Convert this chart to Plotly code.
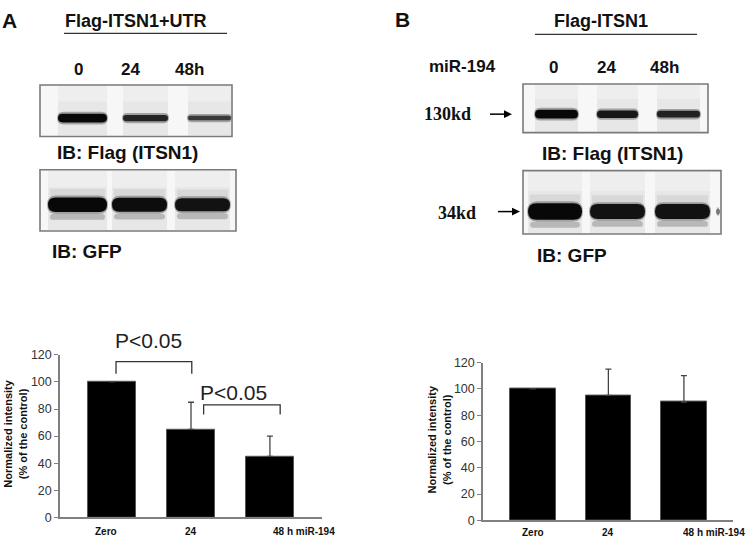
import plotly.graph_objects as go

# ---- bar chart data ----
categories = ["Zero", "24", "48 h miR-194"]
a_mean = [100, 65, 45]
a_err = [0, 20, 15]
b_mean = [100, 95, 90]
b_err = [0, 20, 20]

# ---- blot lane labels / relative band intensities ----
lane_labels = ["0", "24", "48h"]
flag_a = [1.0, 0.72, 0.5]
gfp_a = [1.0, 0.95, 0.9]
flag_b = [1.0, 0.85, 0.75]
gfp_b = [1.0, 0.9, 0.9]

W, H = 750, 542
FONT = "Liberation Sans, Arial, sans-serif"
SERIF = "Liberation Serif, Times New Roman, serif"
TXT = "#111111"
AXC = "#808080"


def pxx(x):
    return x / W


def pxy(y):
    return 1 - y / H


fig = go.Figure()

# ---- bar charts ----
fig.add_trace(go.Bar(
    x=[0, 1, 2], y=a_mean, width=0.61,
    marker=dict(color="black", line=dict(color="#555555", width=1)),
    error_y=dict(type="data", array=a_err, arrayminus=[0, 0, 0], symmetric=False,
                 visible=True, color="#444444", thickness=1.3, width=3),
    showlegend=False, xaxis="x", yaxis="y",
))
fig.add_trace(go.Bar(
    x=[0, 1, 2], y=b_mean, width=0.6,
    marker=dict(color="black", line=dict(color="#555555", width=1)),
    error_y=dict(type="data", array=b_err, arrayminus=[0, 0, 0], symmetric=False,
                 visible=True, color="#444444", thickness=1.3, width=3),
    showlegend=False, xaxis="x2", yaxis="y2",
))

yax = dict(range=[0, 120], dtick=20, showline=True, linecolor=AXC, linewidth=1.5,
           ticks="outside", ticklen=4, tickcolor=AXC, showgrid=False, zeroline=False,
           tickfont=dict(family=FONT, size=12.5, color="#333333"), fixedrange=True)
xax = dict(showline=True, linecolor=AXC, linewidth=1.5, showticklabels=False,
           ticks="", showgrid=False, zeroline=False, fixedrange=True)

fig.update_layout(
    width=W, height=H,
    margin=dict(l=0, r=0, t=0, b=0),
    paper_bgcolor="white", plot_bgcolor="rgba(0,0,0,0)",
    bargap=0,
    xaxis=dict(xax, domain=[pxx(60), pxx(322)], range=[-0.66, 2.66], anchor="y"),
    yaxis=dict(yax, domain=[pxy(524), pxy(357)], anchor="x"),
    xaxis2=dict(xax, domain=[pxx(483), pxx(733)], range=[-0.66, 2.65], anchor="y2"),
    yaxis2=dict(yax, domain=[pxy(527), pxy(365)], anchor="x2"),
    # pixel overlay for the blot drawings
    xaxis3=dict(domain=[0, 1], range=[0, W], visible=False, fixedrange=True, anchor="y3"),
    yaxis3=dict(domain=[0, 1], range=[H, 0], visible=False, fixedrange=True, anchor="x3"),
)

# empty trace so the overlay axes exist
fig.add_trace(go.Scatter(x=[0], y=[0], mode="markers", marker=dict(opacity=0),
                         hoverinfo="skip", showlegend=False, xaxis="x3", yaxis="y3"))

shapes = []
ann = []


def text(x, y, s, size, bold=True, family=FONT, color=TXT, ref=("x3", "y3"), **kw):
    ann.append(dict(x=x, y=y, xref=ref[0], yref=ref[1], text=f"<b>{s}</b>" if bold else s,
                    showarrow=False, font=dict(family=family, size=size, color=color),
                    xanchor=kw.pop("xanchor", "center"), yanchor=kw.pop("yanchor", "middle"), **kw))


def rect(x0, y0, x1, y1, fill, line=None, lw=0, opacity=1):
    shapes.append(dict(type="rect", xref="x3", yref="y3", x0=x0, y0=y0, x1=x1, y1=y1,
                       fillcolor=fill, line=dict(color=line or fill, width=lw), opacity=opacity,
                       layer="above"))


def band(x0, x1, yc, h, fill, opacity=1):
    r = h / 2
    d = (f"M {x0 + r},{yc - r} L {x1 - r},{yc - r} Q {x1},{yc - r} {x1},{yc} "
         f"Q {x1},{yc + r} {x1 - r},{yc + r} L {x0 + r},{yc + r} "
         f"Q {x0},{yc + r} {x0},{yc} Q {x0},{yc - r} {x0 + r},{yc - r} Z")
    shapes.append(dict(type="path", xref="x3", yref="y3", path=d, fillcolor=fill,
                       line=dict(width=0), opacity=opacity, layer="above"))


def blot(box, lanes, yc, base_h, inten, gfp=False):
    x0, y0, x1, y1 = box
    rect(x0, y0, x1, y1, "#f7f7f7")
    for (lx0, lx1) in lanes:
        rect(lx0, y0 + 1, lx1, y1 - 1, "#e7e7e7")
        rect(lx0, y0 + 1, lx1, (y0 + yc) / 2, "#eeeeee")
    for (lx0, lx1), k in zip(lanes, inten):
        h = base_h * k
        if gfp:
            rect(lx0 + 2, yc - h / 2 - 9, lx1 - 2, yc - h / 2, "#d4d4d4", opacity=0.8)
            band(lx0 + 2, lx1 - 2, yc + h / 2 + 5, 6, "#b8b8b8")
        band(lx0 - 1, lx1 + 1, yc, h + 4, "#6a6a6a", opacity=0.55)
        g = int(8 + (1 - k) * 100)
        band(lx0, lx1, yc, h, f"rgb({g},{g},{g})")
    rect(x0, y0, x1, y1, "rgba(0,0,0,0)", line="#7a7a7a", lw=1.6)


# ---- panel A blots ----
blot((40, 80, 232, 133), [(58, 107), (123, 168), (188, 231)], 114, 9, flag_a)
blot((40, 167, 236, 230), [(48, 107), (112, 167), (175, 230)], 203, 15, gfp_a, gfp=True)

# ---- panel B blots ----
blot((523, 79, 708, 129), [(535, 578), (597, 638), (657, 700)], 110, 9, flag_b)
blot((523, 168, 721, 233), [(528, 582), (590, 645), (655, 710)], 210, 17, gfp_b, gfp=True)
band(716, 720, 210, 8, "#777777")

# header lines
shapes.append(dict(type="line", xref="x3", yref="y3", x0=64, x1=227, y0=27, y1=27,
                   line=dict(color="#333333", width=1.3)))
shapes.append(dict(type="line", xref="x3", yref="y3", x0=535, x1=697, y0=28, y1=28,
                   line=dict(color="#333333", width=1.3)))

# arrows (kd markers)
for (ax0, ax1, ay) in [(490, 512, 110), (498, 520, 210)]:
    shapes.append(dict(type="line", xref="x3", yref="y3", x0=ax0, x1=ax1 - 6, y0=ay, y1=ay,
                       line=dict(color="black", width=1.5)))
    shapes.append(dict(type="path", xref="x3", yref="y3",
                       path=f"M {ax1 - 8},{ay - 4} L {ax1},{ay} L {ax1 - 8},{ay + 4} Z",
                       fillcolor="black", line=dict(width=0)))

# ---- panel labels / blot text ----
text(9, 14, "A", 21)
text(393, 13, "B", 21, xanchor="left")
text(136, 14, "Flag-ITSN1+UTR", 18)
text(601, 14, "Flag-ITSN1", 18)
for xc, lab in zip([78, 130, 189], lane_labels):
    text(xc, 64, lab, 17)
for xc, lab in zip([553, 606, 664], lane_labels):
    text(xc, 62, lab, 17)
text(462, 61, "miR-194", 17)
text(127, 149, "IB: Flag (ITSN1)", 19)
text(50, 251, "IB: GFP", 19, xanchor="left")
text(612, 150, "IB: Flag (ITSN1)", 19)
text(535, 255, "IB: GFP", 19, xanchor="left")
text(447, 110, "130kd", 18, family=SERIF)
text(457, 211, "34kd", 18, family=SERIF)

# ---- chart annotations ----
text(148, 342, "P<0.05", 21, bold=False, color="#222222")
text(233, 396, "P<0.05", 21, bold=False, color="#222222")
text(15, 438, "Normalized intensity<br>(% of the control)", 11, textangle=-90)
text(439, 444, "Normalized intensity<br>(% of the control)", 11, textangle=-90)

# x category labels
for ref, shifts, ysh in [(("x", "y"), [-6, 0, 34], -14), (("x2", "y2"), [0, 0, 30], -12)]:
    for i, (cat, sh) in enumerate(zip(categories, shifts)):
        ann.append(dict(x=i, y=0, xref=ref[0], yref=ref[1], text=f"<b>{cat}</b>",
                        showarrow=False, xshift=sh, yshift=ysh, yanchor="middle",
                        font=dict(family=FONT, size=10, color=TXT)))

# significance brackets
for (bx0, bx1, ylo, yhi) in [(0.05, 1.01, 106, 115), (1.16, 2.13, 76, 83)]:
    shapes.append(dict(type="path", xref="x", yref="y",
                       path=f"M {bx0},{ylo} L {bx0},{yhi} L {bx1},{yhi} L {bx1},{ylo}",
                       line=dict(color="#333333", width=1.3)))

fig.update_layout(shapes=shapes, annotations=ann)
fig.write_html("out.html", config={"displayModeBar": False},
               post_script="document.body.style.margin='0';")
